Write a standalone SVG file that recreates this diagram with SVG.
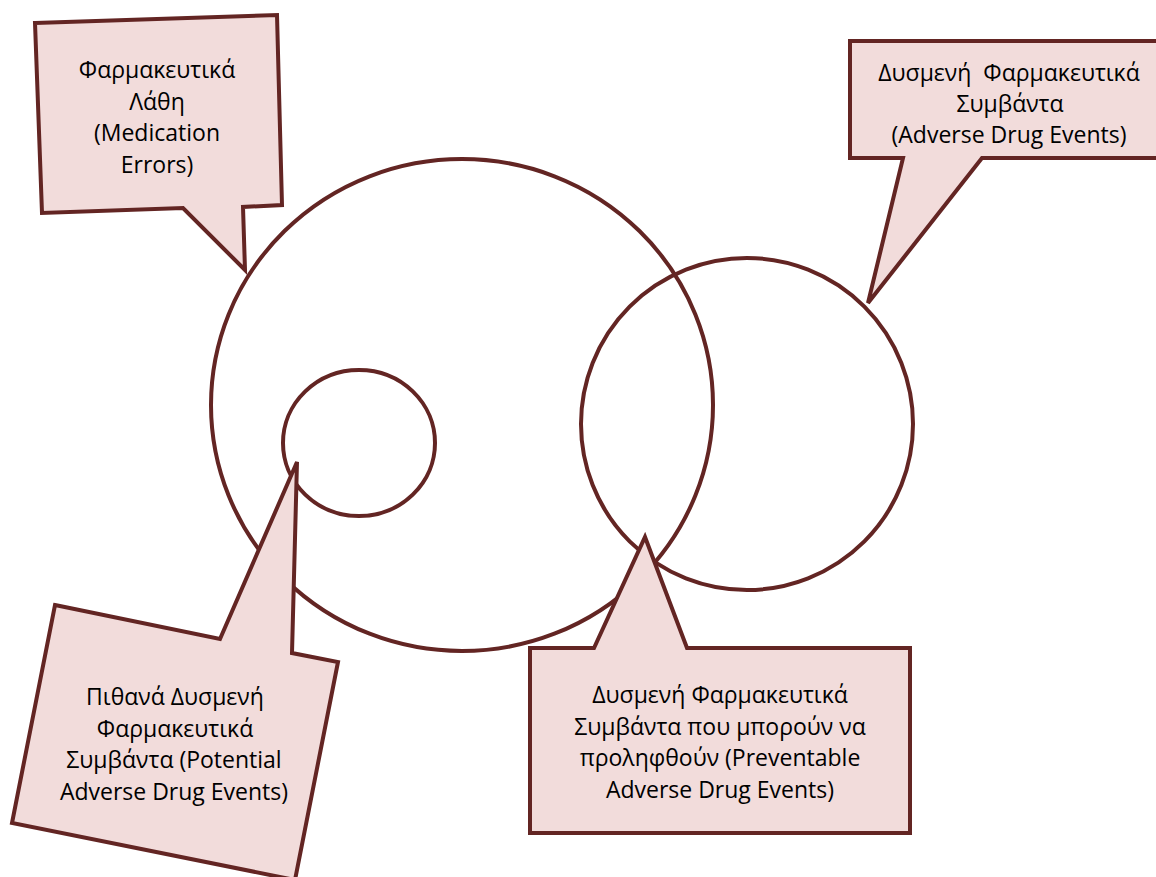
<svg xmlns="http://www.w3.org/2000/svg" width="1156" height="877" viewBox="0 0 1156 877">
  <style>
    .ring { fill: none; stroke: #632523; stroke-width: 4; }
    .callout { fill: #F2DCDB; stroke: #632523; stroke-width: 4; stroke-linejoin: miter; }
    .label { font-family: "Open Sans", "Noto Sans", sans-serif; font-size: 23px; fill: #000; text-anchor: middle; }
  </style>
  <rect width="1156" height="877" fill="#ffffff"/>

  <!-- Sets -->
  <g id="sets">
    <ellipse id="medication-errors" class="ring" cx="462" cy="405" rx="251" ry="246"/>
    <circle id="adverse-drug-events" class="ring" cx="747" cy="424" r="166"/>
    <ellipse id="potential-ade" class="ring" cx="359" cy="443" rx="76" ry="73"/>
  </g>

  <!-- Callout: medication errors -->
  <g id="callout-errors">
    <polygon class="callout" points="35,23 277,15 282,205 243,207 245,270 183,208 42,213"/>
    <text class="label" x="157" y="78">Φαρμακευτικά</text>
    <text class="label" x="157" y="109.5">Λάθη</text>
    <text class="label" x="157" y="141">(Medication</text>
    <text class="label" x="157" y="172.5">Errors)</text>
  </g>

  <!-- Callout: adverse drug events -->
  <g id="callout-ade">
    <polygon class="callout" points="850,41 1170,41 1170,158 982,158 868,303 903,158 850,158"/>
    <text class="label" x="1009" y="81" xml:space="preserve">Δυσμενή  Φαρμακευτικά</text>
    <text class="label" x="1010" y="112">Συμβάντα</text>
    <text class="label" x="1009" y="143">(Adverse Drug Events)</text>
  </g>

  <!-- Callout: potential adverse drug events -->
  <g id="callout-potential">
    <polygon class="callout" points="55,605 220,639 297,462 292,653 338,662 295,880 12,823"/>
    <text class="label" x="175" y="705">Πιθανά Δυσμενή</text>
    <text class="label" x="175" y="736.5">Φαρμακευτικά</text>
    <text class="label" x="174" y="768">Συμβάντα (Potential</text>
    <text class="label" x="174" y="799.5">Adverse Drug Events)</text>
  </g>

  <!-- Callout: preventable adverse drug events -->
  <g id="callout-preventable">
    <polygon class="callout" points="530,648 594,648 645,537 687,648 910,648 910,833 530,833"/>
    <text class="label" x="720" y="703">Δυσμενή Φαρμακευτικά</text>
    <text class="label" x="720" y="734.5">Συμβάντα που μπορούν να</text>
    <text class="label" x="720" y="766">προληφθούν (Preventable</text>
    <text class="label" x="720" y="797.5">Adverse Drug Events)</text>
  </g>
</svg>
